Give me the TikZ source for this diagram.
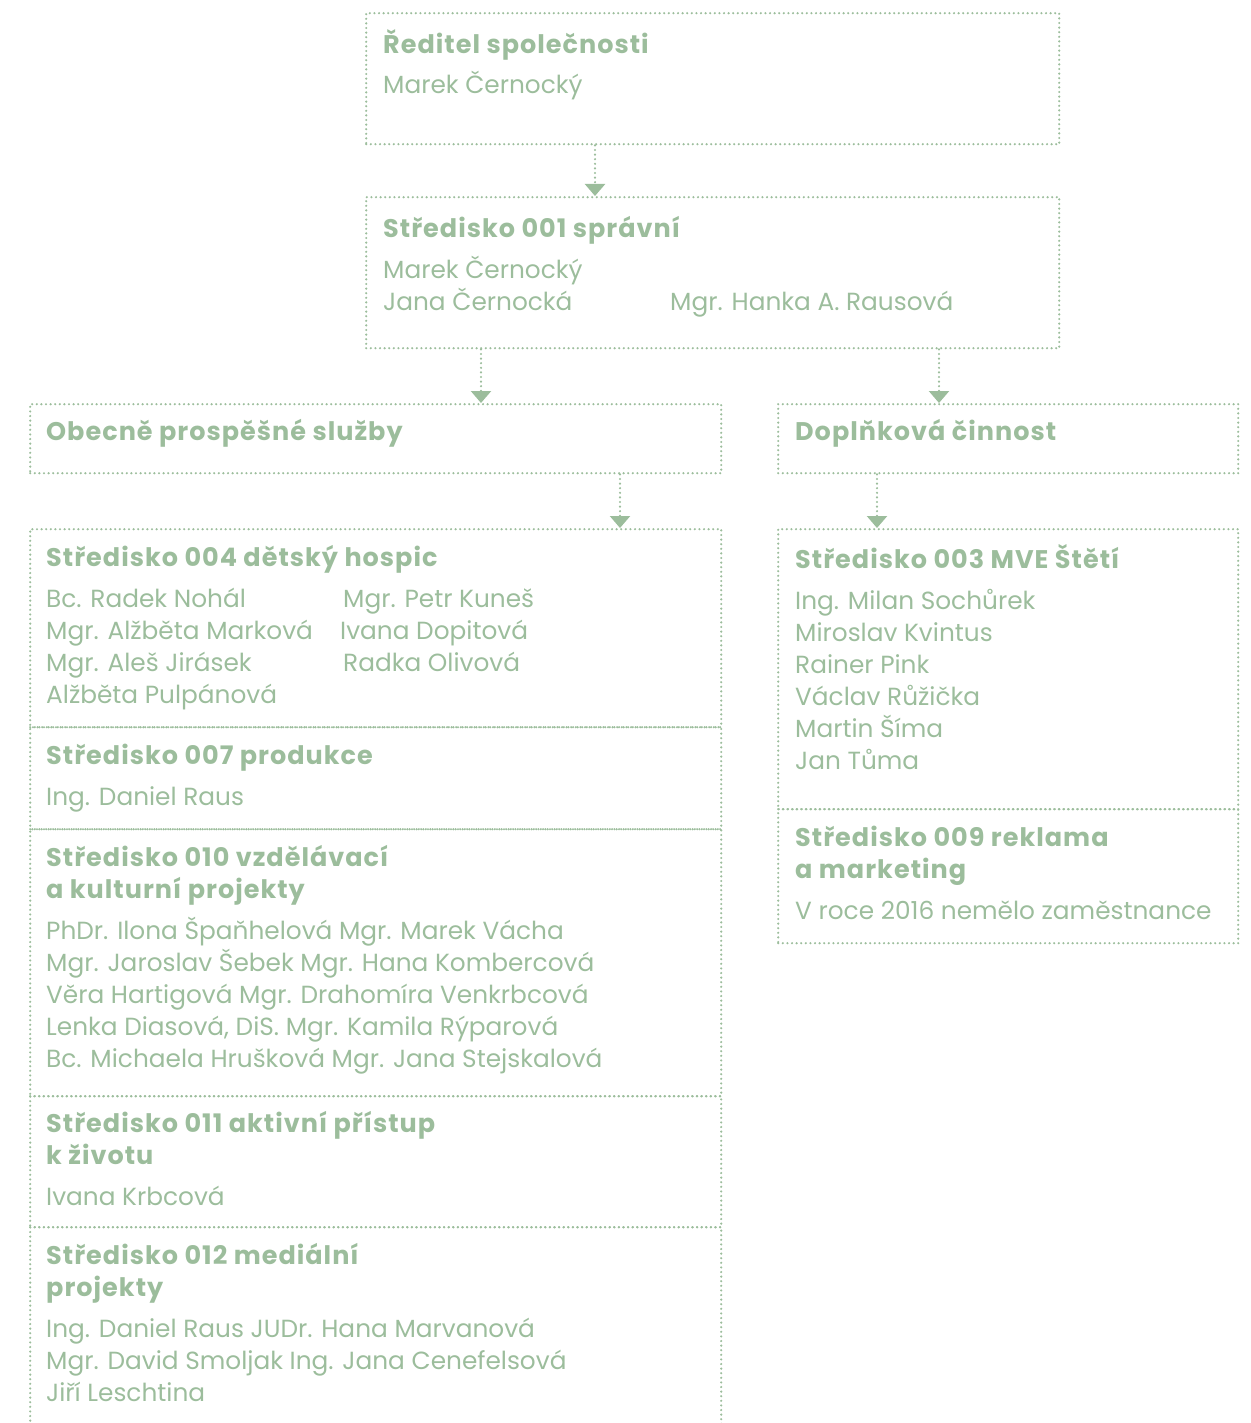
\documentclass[tikz,border=0pt]{standalone}
\usepackage{fontspec}
\setmainfont{Poppins}
\newfontfamily\ttlfont{Poppins}[LetterSpace=4.0]
\usetikzlibrary{arrows.meta}
\definecolor{sage}{RGB}{156,189,156}
\begin{document}
\begin{tikzpicture}[x=1pt,y=-1pt,
 box/.style={draw=sage, line width=2.4pt, dash pattern=on 0pt off 4.6pt, line cap=round, inner sep=0pt, anchor=north west},
 conn/.style={draw=sage, line width=2.4pt, dash pattern=on 0pt off 4.6pt, line cap=round, -{Triangle[width=20pt,length=12pt]}},
 ttl/.style={anchor=base west, inner sep=0pt, text=sage, font=\ttlfont\fontsize{25.5}{32}\selectfont\bfseries},
 txt/.style={anchor=base west, inner sep=0pt, text=sage, font=\fontsize{24.8}{32}\selectfont},
]
\useasboundingbox (0,0) rectangle (1250,1423);
% boxes
\node[box, minimum width=693pt, minimum height=131pt] (dir) at (365,12) {};
\node[box, minimum width=693pt, minimum height=151pt] (sprav) at (365,196) {};
\node[box, minimum width=691pt, minimum height=69pt] (obec) at (29,403) {};
\node[box, minimum width=460pt, minimum height=69pt] (dopl) at (777,403) {};
\node[box, minimum width=691pt, minimum height=198pt] (s004) at (29,528) {};
\node[box, minimum width=691pt, minimum height=102pt] (s007) at (29,726) {};
\node[box, minimum width=691pt, minimum height=267pt] (s010) at (29,828) {};
\node[box, minimum width=691pt, minimum height=131pt] (s011) at (29,1095) {};
\node[box, minimum width=691pt, minimum height=214pt] (s012) at (29,1226) {};
\node[box, minimum width=460pt, minimum height=280pt] (s003) at (777,528) {};
\node[box, minimum width=460pt, minimum height=134pt] (s009) at (777,808) {};
% connector x positions
\coordinate (xa) at (595,0);
\coordinate (xb) at (481,0);
\coordinate (xc) at (939,0);
\coordinate (xd) at (620,0);
\coordinate (xe) at (877,0);
\draw[conn] (dir.south -| xa) -- (sprav.north -| xa);
\draw[conn] (sprav.south -| xb) -- (obec.north -| xb);
\draw[conn] (sprav.south -| xc) -- (dopl.north -| xc);
\draw[conn] (obec.south -| xd) -- (s004.north -| xd);
\draw[conn] (dopl.south -| xe) -- (s003.north -| xe);
% texts
\node[ttl] (t1) at (383,54) {Ředitel společnosti};
\node[txt] (t1a) at (383,94) {Marek Černocký};
\node[ttl] (t2) at (383,238) {Středisko 001 správní};
\node[txt] (t2a) at (383,278) {Marek Černocký};
\node[txt] (t2b) at (383,310) {Jana Černocká};
\node[txt] (t2c) at (670,310) {Mgr. Hanka A. Rausová};
\node[ttl] (t3) at (46,440) {Obecně prospěšné služby};
\node[ttl] (t4) at (795,440) {Doplňková činnost};
\node[ttl] (t5) at (46,566) {Středisko 004 dětský hospic};
\node[txt] (t5a) at (46,607) {Bc. Radek Nohál};
\node[txt] (t5b) at (343,607) {Mgr. Petr Kuneš};
\node[txt] (t5c) at (46,639) {Mgr. Alžběta Marková};
\node[txt] (t5d) at (340,639) {Ivana Dopitová};
\node[txt] (t5e) at (46,671) {Mgr. Aleš Jirásek};
\node[txt] (t5f) at (343,671) {Radka Olivová};
\node[txt] (t5g) at (46,703) {Alžběta Pulpánová};
\node[ttl] (t6) at (46,764) {Středisko 007 produkce};
\node[txt] (t6a) at (46,805) {Ing. Daniel Raus};
\node[ttl] (t7) at (46,866) {Středisko 010 vzdělávací};
\node[ttl] (t7t) at (46,898) {a kulturní projekty};
\node[txt] (t7a) at (46,939) {PhDr. Ilona Špaňhelová Mgr. Marek Vácha};
\node[txt] (t7b) at (46,971) {Mgr. Jaroslav Šebek Mgr. Hana Kombercová};
\node[txt] (t7c) at (46,1003) {Věra Hartigová Mgr. Drahomíra Venkrbcová};
\node[txt] (t7d) at (46,1035) {Lenka Diasová, DiS. Mgr. Kamila Rýparová};
\node[txt] (t7e) at (46,1067) {Bc. Michaela Hrušková Mgr. Jana Stejskalová};
\node[ttl] (t8) at (46,1132) {Středisko 011 aktivní přístup};
\node[ttl] (t8t) at (46,1164) {k životu};
\node[txt] (t8a) at (46,1205) {Ivana Krbcová};
\node[ttl] (t9) at (46,1264) {Středisko 012 mediální};
\node[ttl] (t9t) at (46,1296) {projekty};
\node[txt] (t9a) at (46,1337) {Ing. Daniel Raus JUDr. Hana Marvanová};
\node[txt] (t9b) at (46,1369) {Mgr. David Smoljak Ing. Jana Cenefelsová};
\node[txt] (t9c) at (46,1401) {Jiří Leschtina};
\node[ttl] (t10) at (795,568) {Středisko 003 MVE Štětí};
\node[txt] (t10a) at (795,609) {Ing. Milan Sochůrek};
\node[txt] (t10b) at (795,641) {Miroslav Kvintus};
\node[txt] (t10c) at (795,673) {Rainer Pink};
\node[txt] (t10d) at (795,705) {Václav Růžička};
\node[txt] (t10e) at (795,737) {Martin Šíma};
\node[txt] (t10f) at (795,769) {Jan Tůma};
\node[ttl] (t11) at (795,846) {Středisko 009 reklama};
\node[ttl] (t11t) at (795,878) {a marketing};
\node[txt] (t11a) at (795,919) {V roce 2016 nemělo zaměstnance};
\end{tikzpicture}
\end{document}
